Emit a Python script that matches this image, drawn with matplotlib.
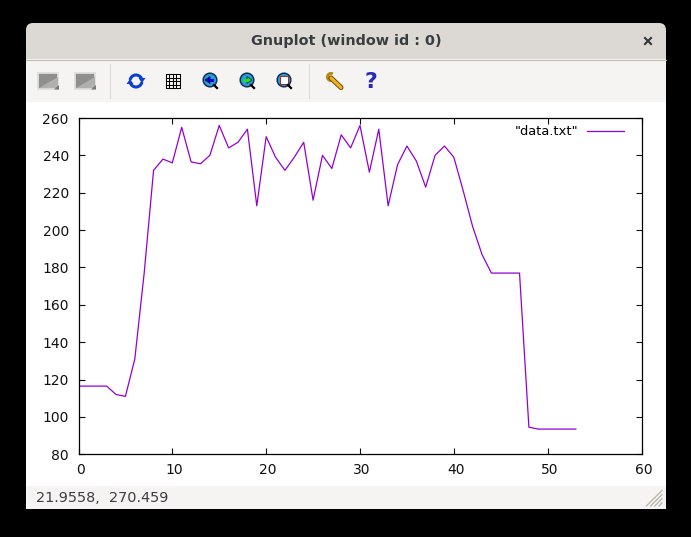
import matplotlib
matplotlib.use("Agg")
import matplotlib.pyplot as plt
from matplotlib.patches import Rectangle, FancyBboxPatch, Circle, Polygon, Arc
from matplotlib.lines import Line2D
from matplotlib.transforms import ScaledTranslation

x_values = list(range(54))
y_values = [116.5, 116.5, 116.5, 116.5, 112, 111, 131, 177, 232, 238,
            236, 255, 236.5, 235.5, 240, 256, 244, 247, 254, 213,
            250, 239, 232, 239, 247, 216, 240, 233, 251, 244,
            256, 231, 254, 213, 235, 245, 237, 223, 240, 245,
            239, 221, 202, 187, 177, 177, 177, 177, 94.5, 93.5,
            93.5, 93.5, 93.5, 93.5]
x_ticks = [0, 10, 20, 30, 40, 50, 60]
y_ticks = [80, 100, 120, 140, 160, 180, 200, 220, 240, 260]
series_label = '"data.txt"'
window_title = "Gnuplot (window id : 0)"
status_text = "21.9558,  270.459"

W, H = 691, 537
fig = plt.figure(figsize=(W / 100, H / 100), dpi=100, facecolor="black")

# window chrome, drawn in pixel coordinates
ch = fig.add_axes([0, 0, 1, 1], zorder=0)
ch.set_xlim(0, W)
ch.set_ylim(H, 0)
ch.axis("off")
ch.add_patch(FancyBboxPatch((26, 23), 640, 60, boxstyle="round,pad=0,rounding_size=7",
                            fc="#dcd9d5", ec="none"))
ch.add_patch(Rectangle((26, 59), 640, 43, fc="#f5f4f2", ec="none"))
ch.add_line(Line2D([26, 666], [59.5, 59.5], color="#c3bcb4", lw=0.8))
ch.add_patch(Rectangle((26, 102), 640, 384, fc="white", ec="none"))
ch.add_patch(Rectangle((26, 486), 640, 23, fc="#f5f4f2", ec="none"))
for sx in (110.5, 309.5):
    ch.add_line(Line2D([sx, sx], [64, 98], color="#dedbd8", lw=0.8))
ch.text(346, 41, window_title, ha="center", va="center", fontsize=10.4,
        fontweight="bold", color="#3a3d3f", family="DejaVu Sans")
ch.add_line(Line2D([645, 651], [38, 44], color="#33383a", lw=1.5))
ch.add_line(Line2D([645, 651], [44, 38], color="#33383a", lw=1.5))
ch.text(36, 498, status_text, ha="left", va="center", fontsize=10.4, color="#3d3f40")

# toolbar icons
for fx in (38, 75):
    ch.add_patch(Rectangle((fx, 73), 20.5, 16, fc="#8f8f8d", ec="#dededc", lw=1.3))
    ch.add_patch(Polygon([(fx + 1, 88), (fx + 20, 77), (fx + 20, 88)], fc="#b0b0ae", ec="none"))
    ch.add_patch(Polygon([(fx + 16, 89.5), (fx + 21, 85), (fx + 21, 89.5)], fc="#777775", ec="none"))
for start, end, tipx, tipy, d in ((190, 350, 142, 79, 1), (10, 170, 130, 83, -1)):
    ch.add_patch(Arc((136, 81), 12, 12, theta1=start, theta2=end, color="#0a3fd0", lw=2.2))
    ch.add_patch(Polygon([(tipx - 3.5, tipy - d * 1), (tipx + 3.5, tipy - d * 1), (tipx, tipy + d * 4)],
                         fc="#0a3fd0", ec="none"))
for off in (-7, -3.5, 0, 3.5, 7):
    ch.add_line(Line2D([173 + off] * 2, [74, 88], color="black", lw=0.75))
    ch.add_line(Line2D([166, 180], [81 + off] * 2, color="black", lw=0.75))
for cx, inner in ((210, "#0000cc"), (247, "#22dd22"), (284, "#ffffff")):
    ch.add_line(Line2D([cx + 4, cx + 7], [85, 88], color="black", lw=1.6))
    ch.add_patch(Circle((cx, 80), 6.8, fc="#2a9be0", ec="#12324f", lw=1.1))
    if cx < 284:
        ch.add_patch(Polygon([(cx - 5, 80), (cx, 76.5), (cx, 83.5)] if cx == 210
                             else [(cx + 5, 80), (cx, 76.5), (cx, 83.5)],
                             fc=inner, ec="black", lw=0.4))
        ch.add_patch(Rectangle((cx - 1 if cx == 210 else cx - 4, 78.5), 5, 3, fc=inner, ec="none"))
    else:
        ch.add_patch(Rectangle((cx - 4, 76), 8, 8, fc="white", ec="#aa2222", lw=0.7))
ch.add_line(Line2D([331, 341], [78, 87.5], color="#5a4000", lw=3.6, solid_capstyle="round"))
ch.add_line(Line2D([331, 341], [78, 87.5], color="#f0b020", lw=2.4, solid_capstyle="round"))
ch.add_patch(Arc((331, 77), 7, 7, theta1=60, theta2=300, color="#b88a10", lw=2.2))
ch.text(371, 82.5, "?", ha="center", va="center", fontsize=16, fontweight="bold", color="#2a2ab8")
for k in range(4):
    ch.add_line(Line2D([662 - 4.2 * k - 3, 662], [506, 506 - 4.2 * k - 3], color="#b5b1ab", lw=0.9))

# plot
left, right, top, bottom = 78.5, 641.5, 118.0, 454.3
ax = fig.add_axes([left / W, 1 - bottom / H, (right - left) / W, (bottom - top) / H], zorder=1)
ax.patch.set_alpha(0)
ax.plot(x_values, y_values, color="#9400d3", lw=0.9, label=series_label)
ax.set_xlim(0, 60)
ax.set_ylim(80, 260)
ax.set_xticks(x_ticks)
ax.set_yticks(y_ticks)
ax.tick_params(direction="in", length=4.5, width=0.8, top=True, right=True, labelsize=10,
               colors="#111111")
ax.tick_params(axis="x", pad=6)
ax.tick_params(axis="y", pad=7)
shift = ScaledTranslation(2 / 100, 0, fig.dpi_scale_trans)
for lab in ax.get_xticklabels():
    lab.set_transform(lab.get_transform() + shift)
for s in ax.spines.values():
    s.set_linewidth(0.9)
ax.legend(loc="upper right", frameon=False, markerfirst=False, fontsize=9.4,
          handlelength=2.85, handletextpad=0.65, borderaxespad=0, borderpad=0.55,
          bbox_to_anchor=(0.9815, 1.0))

fig.savefig("out.png", dpi=100, facecolor="black")
